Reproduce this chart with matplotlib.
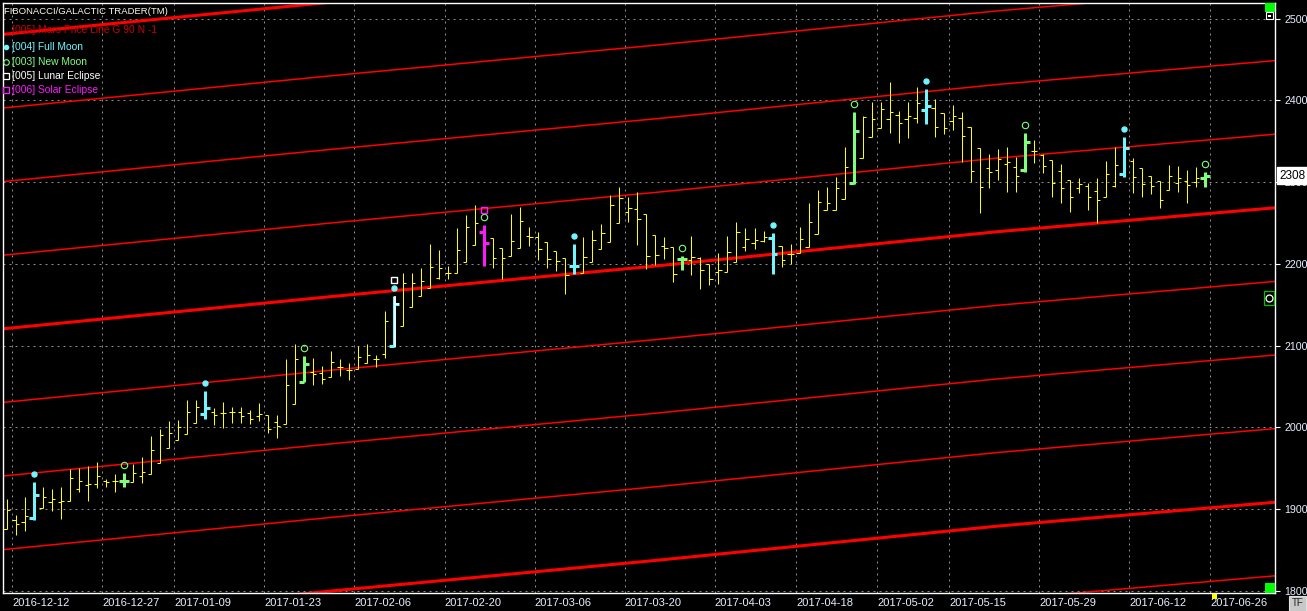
import matplotlib
matplotlib.use("Agg")
import matplotlib.pyplot as plt
from matplotlib.transforms import offset_copy, blended_transform_factory
from matplotlib.patches import Rectangle
from matplotlib.lines import Line2D
import numpy as np

# ---------------- data ----------------
opens = [1875.5, 1886.5, 1884.5, 1888.9, 1902.0, 1908.5, 1909.3, 1910.5, 1924.4, 1929.7,
         1930.5, 1935.0, 1934.2, 1934.6, 1933.8, 1940.7, 1942.7, 1957.0, 1974.5, 1984.3,
         1991.6, 2005.1, 2016.1, 2018.5, 2017.3, 2019.3, 2018.5, 2018.1, 2014.4, 2015.3,
         2006.3, 2003.8, 2028.3, 2056.0, 2068.2, 2066.2, 2062.1, 2073.5, 2070.3, 2071.1,
         2078.4, 2083.3, 2090.0, 2100.0, 2124.4, 2146.9, 2161.1, 2170.9, 2182.3, 2189.2,
         2189.2, 2202.7, 2223.1, 2239.4, 2231.2, 2219.0, 2209.6, 2219.0, 2234.5, 2233.3,
         2226.3, 2215.7, 2206.8, 2197.4, 2188.4, 2202.7, 2217.8, 2227.2, 2249.6, 2263.8,
         2266.7, 2261.0, 2235.3, 2222.3, 2220.2, 2205.6, 2204.8, 2206.8, 2199.9, 2189.7,
         2190.5, 2202.7, 2220.2, 2225.1, 2228.0, 2231.2, 2221.9, 2212.1, 2212.9, 2221.1,
         2236.5, 2265.9, 2265.9, 2279.0, 2298.5, 2329.9, 2354.8, 2365.8, 2377.2, 2382.1,
         2376.8, 2378.0, 2388.2, 2390.2, 2384.1, 2375.1, 2378.0, 2367.8, 2341.3, 2316.9,
         2314.8, 2321.8, 2318.9, 2314.8, 2338.5, 2333.2, 2327.0, 2314.0, 2302.6, 2292.4,
         2295.3, 2289.1, 2282.2, 2295.7, 2309.9, 2325.8, 2316.9, 2307.5, 2301.4, 2290.4,
         2299.3, 2301.4, 2300.6, 2305.0]
highs = [1912.2, 1893.0, 1915.4, 1932.9, 1927.6, 1924.8, 1927.6, 1949.2, 1950.5, 1952.9,
         1957.4, 1936.6, 1942.7, 1943.9, 1955.4, 1963.9, 1989.6, 1998.1, 2007.9, 2009.1,
         2033.6, 2033.6, 2045.0, 2023.4, 2030.7, 2024.6, 2024.6, 2021.4, 2029.5, 2015.3,
         2015.3, 2083.7, 2102.0, 2087.8, 2084.5, 2075.1, 2093.5, 2083.3, 2078.4, 2099.6,
         2102.0, 2088.6, 2142.4, 2161.1, 2188.4, 2188.4, 2194.5, 2223.9, 2217.0, 2197.4,
         2243.4, 2259.7, 2272.0, 2247.5, 2231.2, 2219.0, 2261.0, 2269.1, 2244.7, 2238.6,
         2226.3, 2215.7, 2206.8, 2224.3, 2232.4, 2241.4, 2248.7, 2284.2, 2293.6, 2282.1,
         2287.4, 2261.0, 2235.3, 2232.5, 2220.2, 2210.0, 2234.1, 2208.0, 2199.9, 2212.9,
         2234.1, 2250.8, 2243.5, 2243.5, 2240.2, 2237.4, 2221.9, 2224.3, 2245.5, 2274.8,
         2290.4, 2294.5, 2306.7, 2343.3, 2385.3, 2381.2, 2398.4, 2397.6, 2422.0, 2387.0,
         2398.4, 2415.9, 2413.8, 2401.2, 2384.1, 2394.3, 2386.1, 2367.8, 2341.3, 2334.0,
         2340.1, 2342.5, 2330.3, 2360.5, 2351.5, 2334.4, 2327.0, 2322.2, 2302.6, 2304.6,
         2298.5, 2304.6, 2325.8, 2343.3, 2355.6, 2329.1, 2316.9, 2307.5, 2301.4, 2320.9,
         2319.7, 2314.8, 2318.9, 2312.8]
lows = [1875.5, 1868.6, 1873.8, 1886.9, 1902.0, 1897.9, 1888.1, 1910.5, 1921.5, 1910.5,
        1925.6, 1927.6, 1921.5, 1926.8, 1933.8, 1932.5, 1942.7, 1957.0, 1974.5, 1984.3,
        1991.6, 2005.1, 2010.4, 2003.0, 1999.8, 2005.9, 2005.9, 2003.8, 2008.3, 1992.8,
        1987.5, 2003.8, 2028.3, 2055.2, 2051.9, 2053.1, 2062.1, 2063.3, 2058.0, 2071.1,
        2078.4, 2074.3, 2085.0, 2098.4, 2124.4, 2146.9, 2161.1, 2170.1, 2181.1, 2181.5,
        2189.2, 2202.7, 2223.1, 2197.4, 2195.4, 2181.5, 2209.6, 2219.0, 2222.3, 2204.7,
        2195.4, 2191.7, 2162.8, 2187.6, 2188.4, 2202.7, 2217.8, 2227.2, 2249.6, 2251.6,
        2223.1, 2193.3, 2198.6, 2206.0, 2178.3, 2192.5, 2186.4, 2169.3, 2174.2, 2175.4,
        2190.5, 2202.7, 2216.2, 2217.8, 2227.2, 2187.2, 2195.8, 2199.9, 2212.9, 2221.1,
        2236.5, 2265.9, 2265.9, 2279.0, 2297.7, 2329.9, 2354.8, 2365.8, 2360.5, 2347.4,
        2354.4, 2372.7, 2371.1, 2355.6, 2358.8, 2363.7, 2325.0, 2300.6, 2261.8, 2293.2,
        2302.6, 2287.5, 2287.5, 2312.8, 2323.0, 2310.7, 2281.4, 2274.1, 2263.8, 2286.3,
        2265.9, 2249.6, 2282.2, 2294.4, 2306.7, 2286.3, 2282.2, 2285.1, 2268.0, 2290.4,
        2288.3, 2274.1, 2294.4, 2294.4]
closes = [1899.1, 1882.0, 1891.8, 1917.5, 1914.6, 1912.6, 1910.1, 1937.8, 1934.6, 1930.5,
          1940.7, 1932.9, 1934.2, 1934.6, 1944.8, 1946.0, 1972.5, 1990.8, 1992.9, 2000.2,
          2018.9, 2024.6, 2023.4, 2015.2, 2017.3, 2019.3, 2014.4, 2010.3, 2016.1, 1997.7,
          2002.2, 2051.9, 2083.7, 2077.2, 2065.4, 2058.8, 2079.6, 2073.5, 2070.3, 2085.7,
          2088.6, 2083.3, 2130.0, 2150.5, 2176.2, 2176.2, 2179.1, 2195.8, 2194.5, 2189.2,
          2217.0, 2245.5, 2250.4, 2225.9, 2206.8, 2206.8, 2228.0, 2252.4, 2232.4, 2217.8,
          2206.0, 2203.5, 2186.4, 2197.4, 2208.0, 2229.2, 2237.3, 2271.9, 2280.1, 2267.9,
          2254.4, 2209.6, 2210.8, 2219.0, 2187.2, 2205.6, 2208.8, 2192.5, 2181.5, 2192.5,
          2214.1, 2238.6, 2230.0, 2229.2, 2233.3, 2211.7, 2204.8, 2212.1, 2230.0, 2250.8,
          2275.3, 2274.1, 2292.4, 2318.1, 2362.5, 2379.2, 2376.8, 2389.0, 2386.1, 2371.9,
          2380.8, 2397.1, 2393.1, 2367.8, 2365.8, 2381.2, 2356.8, 2313.6, 2293.6, 2312.0,
          2327.9, 2325.0, 2307.9, 2348.6, 2338.5, 2319.7, 2299.3, 2292.4, 2281.4, 2297.7,
          2282.2, 2278.1, 2309.9, 2320.9, 2341.3, 2306.7, 2297.3, 2295.7, 2278.1, 2307.5,
          2304.6, 2296.5, 2305.4, 2308.0]

full_moon_bars = [3, 22, 43, 63, 85, 102, 124]
new_moon_bars = [13, 33, 53, 75, 94, 113, 133]
lunar_eclipse_bars = [43]
solar_eclipse_bars = [53]

tick_bars = [1, 11, 19, 29, 39, 49, 59, 69, 79, 88, 97, 105, 115, 125, 134]
tick_labels = ['2016-12-12', '2016-12-27', '2017-01-09', '2017-01-23', '2017-02-06',
               '2017-02-20', '2017-03-06', '2017-03-20', '2017-04-03', '2017-04-18',
               '2017-05-02', '2017-05-15', '2017-05-29', '2017-06-12', '2017-06-26']
price_ticks = [1800, 1900, 2000, 2100, 2200, 2300, 2400, 2500]
last_price = 2308

# Mars price line: base line read at a few bars, plus parallel harmonics
mars_bars = [-1, 36, 72, 110, 141]
mars_base = [2120.0, 2160.0, 2197.4, 2239.4, 2268.8]
mars_offsets = [-450, -360, -270, -180, -90, 0, 90, 180, 270, 360]
mars_thick_offsets = [-360, 0, 360]

title_text = 'FIBONACCI/GALACTIC TRADER(TM)'
legend_entries = ['[005] Mars Price Line G 90 N -1', '[004] Full Moon', '[003] New Moon',
                  '[005] Lunar Eclipse', '[006] Solar Eclipse']

# ---------------- style ----------------
W, H = 1307, 611
YELLOW = '#ffff00'
CYAN = '#6ff6ff'
GREEN = '#7dff7d'
MAGENTA = '#ff19ff'
WHITE = '#ffffff'
RED = '#ff0000'
GRID = '#8c8c8c'
LABEL = '#e8efff'

plt.rcParams['font.family'] = ['Liberation Sans', 'DejaVu Sans']

fig = plt.figure(figsize=(W / 100, H / 100), dpi=100, facecolor='black')
ax = fig.add_axes([3 / W, 18 / H, 1272 / W, 590 / H], facecolor='black')
ax.set_xlim(-0.41, 140.77)
ax.set_ylim(1797.6, 2519.0)

# grid
for t in tick_bars:
    ax.axvline(t - 0.4, color=GRID, lw=0.72, ls=(0, (2, 4)), zorder=1)
for p in price_ticks:
    ax.axhline(p, color=GRID, lw=0.72, ls=(0, (2, 4)), zorder=1)

# Mars lines
for off in mars_offsets:
    ys = np.array(mars_base) + off
    lw = 2.2 if off in mars_thick_offsets else 1.1
    ax.plot(mars_bars, ys, color=RED, lw=lw, zorder=2, solid_capstyle='butt')

# OHLC bars
n = len(closes)
colors = [YELLOW] * n
for b in full_moon_bars:
    colors[b] = CYAN
for b in new_moon_bars:
    colors[b] = GREEN
for b in solar_eclipse_bars:
    colors[b] = MAGENTA
special = set(full_moon_bars) | set(new_moon_bars) | set(solar_eclipse_bars) | set(lunar_eclipse_bars)

for i in range(n):
    sp = i in special
    lw = 2.16 if sp else 0.72
    tk = 0.55 if sp else 0.36
    c = colors[i]
    kw = dict(color=c, lw=lw, antialiased=True, snap=True, zorder=4, solid_capstyle='butt')
    ax.add_line(Line2D([i, i], [lows[i], highs[i]], **kw))
    ax.add_line(Line2D([i - tk, i], [opens[i], opens[i]], **kw))
    ax.add_line(Line2D([i, i + tk], [closes[i], closes[i]], **kw))

# lunar eclipse bars: white core over the moon colour
for b in lunar_eclipse_bars:
    kw = dict(color=WHITE, lw=1.1, antialiased=True, snap=True, zorder=4.5, solid_capstyle='butt')
    ax.add_line(Line2D([b + 0.08, b + 0.08], [lows[b], highs[b]], **kw))
    ax.add_line(Line2D([b, b + 0.55], [closes[b], closes[b]], **kw))

# event markers above bars
tr_near = offset_copy(ax.transData, fig=fig, y=8 * 0.72, units='points')
tr_far = offset_copy(ax.transData, fig=fig, y=15.5 * 0.72, units='points')
ax.plot(full_moon_bars, [highs[b] for b in full_moon_bars], 'o', ms=3.6, mfc=CYAN, mec=CYAN,
        transform=tr_near, zorder=5, ls='none')
ax.plot(new_moon_bars, [highs[b] for b in new_moon_bars], 'o', ms=4.6, mfc='none', mec=GREEN,
        mew=0.8, transform=tr_near, zorder=5, ls='none')
ax.plot(lunar_eclipse_bars, [highs[b] for b in lunar_eclipse_bars], 's', ms=4.6, mfc='none',
        mec=WHITE, mew=1.0, transform=tr_far, zorder=5, ls='none')
ax.plot(solar_eclipse_bars, [highs[b] for b in solar_eclipse_bars], 's', ms=4.6, mfc='none',
        mec=MAGENTA, mew=1.0, transform=tr_far, zorder=5, ls='none')

# spines & ticks
for s in ax.spines.values():
    s.set_color(WHITE)
    s.set_linewidth(1.0)
ax.yaxis.tick_right()
ax.set_yticks(price_ticks)
ax.set_yticklabels([str(p) for p in price_ticks])
ax.tick_params(axis='y', colors=WHITE, length=3.6, width=0.8, pad=3, labelsize=7.7,
               labelcolor=LABEL)
ax.set_xticks([t - 0.4 for t in tick_bars])
ax.set_xticklabels(tick_labels)
ax.tick_params(axis='x', length=0, pad=3.5, labelsize=8, labelcolor=LABEL)
for lab in ax.get_xticklabels():
    lab.set_ha('left')

# last price box
bt = blended_transform_factory(ax.transAxes, ax.transData)
ax.text(1.0035, last_price, str(last_price), transform=bt, color='black', fontsize=8.5,
        va='center', ha='left', zorder=10, clip_on=False,
        bbox=dict(boxstyle='square,pad=0.22', fc='white', ec='white'))


# ---------------- legend / decorations (figure pixel coords) ----------------
def fx(x):
    return x / W


def fy(y):
    return 1 - y / H


fig.text(fx(4), fy(11), title_text, color='#fff8e8', fontsize=6.8, va='center', ha='left')
leg_colors = ['#cc0000', CYAN, GREEN, WHITE, MAGENTA]
leg_y = [30, 47, 62, 76, 90]
for txt, c, y in zip(legend_entries, leg_colors, leg_y):
    fig.text(fx(12), fy(y), txt, color=c, fontsize=7.4, va='center', ha='left', zorder=6)
fig.add_artist(Line2D([fx(6)], [fy(47)], marker='o', ms=3, mfc=CYAN, mec=CYAN,
                      transform=fig.transFigure))
fig.add_artist(Line2D([fx(6)], [fy(62)], marker='o', ms=4, mfc='none', mec=GREEN, mew=0.8,
                      transform=fig.transFigure))
fig.add_artist(Line2D([fx(6)], [fy(76)], marker='s', ms=4, mfc='none', mec=WHITE, mew=0.9,
                      transform=fig.transFigure))
fig.add_artist(Line2D([fx(6)], [fy(90)], marker='s', ms=4, mfc='none', mec=MAGENTA, mew=0.9,
                      transform=fig.transFigure))


def prect(x0, y0, x1, y1, **kw):
    fig.add_artist(Rectangle((fx(x0), fy(y1)), (x1 - x0) / W, (y1 - y0) / H,
                             transform=fig.transFigure, **kw))


prect(1265, 3, 1275, 12, fc='#00ff00', ec='none', zorder=8)
prect(1266, 12, 1273, 19, fc='black', ec='white', lw=0.8, zorder=8)
prect(1268, 15, 1271, 17, fc='white', ec='none', zorder=9)
prect(1264, 291, 1274, 305, fc='black', ec='#00c000', lw=0.9, zorder=8)
fig.add_artist(Line2D([fx(1269)], [fy(298)], marker='o', ms=5, mfc='none', mec='white', mew=0.9,
                      transform=fig.transFigure, zorder=9))
prect(1265, 583, 1275, 593, fc='#00ff00', ec='none', zorder=8)
prect(1212, 594, 1217, 599, fc='#ffff00', ec='none', zorder=8)
prect(1289, 596, 1306, 611, fc='#c8c8c8', ec='#e0e0e0', lw=0.8, zorder=8)
fig.text(fx(1297.5), fy(603.5), 'TF', color='#202020', fontsize=7, va='center', ha='center',
         zorder=9)

fig.savefig('out.png', dpi=100, facecolor='black')
